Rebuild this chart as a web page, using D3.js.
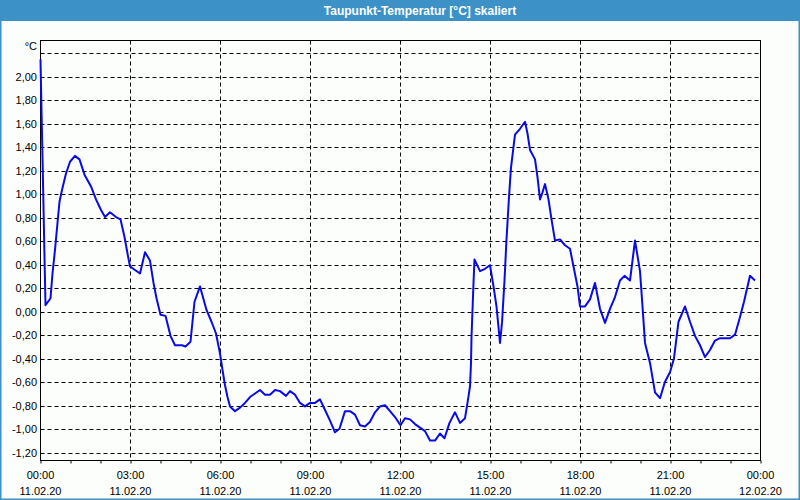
<!DOCTYPE html>
<html>
<head>
<meta charset="utf-8">
<script src="https://cdn.jsdelivr.net/npm/d3@7"></script>
<style>
  html, body { margin: 0; padding: 0; background: #fcfefc; }
  svg { display: block; }
  text { font-family: "Liberation Sans", Arial, sans-serif; }
</style>
</head>
<body>
<svg id="chart" width="800" height="500"></svg>
<script>
const title = "Taupunkt-Temperatur [°C] skaliert";
const unitLabel = "°C";
const times = ["00:00","00:02","00:04","00:06","00:08","00:10","00:20","00:24","00:29","00:34","00:38","00:43","00:51","00:59","01:09","01:18","01:28","01:41","01:51","02:01","02:09","02:19","02:31","02:40","02:48","02:54","02:59","03:09","03:19","03:29","03:39","03:46","03:52","04:00","04:10","04:20","04:29","04:43","04:50","05:00","05:08","05:19","05:32","05:42","05:51","05:59","06:04","06:09","06:14","06:19","06:29","06:39","06:49","06:59","07:09","07:19","07:29","07:39","07:49","07:59","08:11","08:19","08:29","08:39","08:49","08:59","09:09","09:19","09:29","09:39","09:49","09:58","10:09","10:19","10:29","10:39","10:49","10:59","11:09","11:19","11:29","11:39","11:49","12:00","12:09","12:19","12:29","12:39","12:49","12:59","13:09","13:19","13:28","13:38","13:49","13:59","14:09","14:14","14:19","14:21","14:22","14:24","14:26","14:28","14:39","14:49","14:59","15:06","15:12","15:19","15:23","15:28","15:32","15:37","15:41","15:49","15:59","16:09","16:14","16:19","16:29","16:34","16:39","16:44","16:49","16:56","17:02","17:09","17:19","17:29","17:39","17:46","17:54","17:59","18:09","18:19","18:29","18:39","18:49","18:59","19:09","19:19","19:28","19:39","19:49","19:59","20:04","20:09","20:19","20:29","20:39","20:49","20:59","21:07","21:16","21:29","21:39","21:49","21:59","22:09","22:19","22:29","22:39","22:59","23:09","23:19","23:27","23:34","23:39","23:49"];
const values = [2.15,1.72,1.32,0.90,0.47,0.06,0.12,0.33,0.53,0.76,0.94,1.04,1.18,1.28,1.33,1.30,1.17,1.07,0.96,0.87,0.81,0.85,0.81,0.79,0.64,0.50,0.39,0.36,0.33,0.51,0.44,0.25,0.12,-0.02,-0.03,-0.20,-0.28,-0.28,-0.29,-0.25,0.09,0.22,0.02,-0.08,-0.18,-0.35,-0.49,-0.62,-0.72,-0.80,-0.84,-0.81,-0.77,-0.72,-0.69,-0.66,-0.70,-0.70,-0.66,-0.67,-0.71,-0.67,-0.70,-0.77,-0.80,-0.77,-0.77,-0.74,-0.83,-0.92,-1.02,-0.99,-0.84,-0.84,-0.87,-0.96,-0.97,-0.93,-0.85,-0.80,-0.79,-0.84,-0.89,-0.96,-0.90,-0.91,-0.95,-0.98,-1.01,-1.09,-1.09,-1.03,-1.07,-0.94,-0.85,-0.94,-0.90,-0.77,-0.63,-0.43,-0.21,0.02,0.25,0.45,0.35,0.37,0.40,0.22,0.05,-0.26,-0.09,0.27,0.62,0.98,1.23,1.51,1.56,1.62,1.52,1.38,1.30,1.15,0.96,1.02,1.09,0.96,0.79,0.61,0.62,0.57,0.54,0.39,0.22,0.05,0.05,0.11,0.25,0.03,-0.09,0.03,0.13,0.27,0.31,0.27,0.61,0.35,0.05,-0.26,-0.43,-0.68,-0.73,-0.59,-0.51,-0.39,-0.08,0.05,-0.08,-0.20,-0.28,-0.38,-0.32,-0.24,-0.22,-0.22,-0.19,-0.04,0.09,0.22,0.31,0.27];
const yTicks = [-1.2,-1.0,-0.8,-0.6,-0.4,-0.2,0,0.2,0.4,0.6,0.8,1.0,1.2,1.4,1.6,1.8,2.0,2.2];
const startDay = "2020-02-11";
const endDay = "2020-02-12";

const parse = d3.timeParse("%Y-%m-%d %H:%M");
const data = times.map((t, i) => ({ t: parse(startDay + " " + t), v: values[i] }));

const svg = d3.select("#chart");
const W = 800, H = 500;
const L = 40.5, R = 760.5, T = 40.5, B = 460.5;
const barColor = "#3c91c6";

// window background & border
svg.append("rect").attr("x", 0).attr("y", 0).attr("width", W).attr("height", H).attr("fill", "#fcfefc");
svg.append("rect").attr("x", 0).attr("y", 0).attr("width", W).attr("height", 21).attr("fill", barColor);
svg.append("rect").attr("x", 0.75).attr("y", 0.75).attr("width", W - 1.5).attr("height", H - 1.5)
  .attr("fill", "none").attr("stroke", barColor).attr("stroke-width", 1.5);
svg.append("text").attr("x", 420).attr("y", 14.5).attr("text-anchor", "middle")
  .attr("fill", "#ffffff").attr("font-weight", "bold").attr("font-size", "12px").text(title);

const x = d3.scaleTime().domain([parse(startDay + " 00:00"), parse(endDay + " 00:00")]).range([L, R]);
const y = d3.scaleLinear().domain([-1.2, 2.2]).range([453.5, 53.5]);
const cy = v => Math.round(y(v) - 0.5) + 0.5;

// horizontal grid
const grid = svg.append("g");
yTicks.forEach(v => {
  grid.append("line").attr("x1", L).attr("x2", R).attr("y1", cy(v)).attr("y2", cy(v))
    .attr("stroke", "#000").attr("stroke-dasharray", "4,3").attr("stroke-width", 1);
});
// vertical grid every 3h
const majors = x.ticks(d3.timeHour.every(3));
majors.slice(1, -1).forEach(d => {
  grid.append("line").attr("x1", Math.round(x(d) - 0.5) + 0.5).attr("x2", Math.round(x(d) - 0.5) + 0.5)
    .attr("y1", T).attr("y2", B).attr("stroke", "#000").attr("stroke-dasharray", "4,3");
});

// y labels
const fmt = v => d3.format(".2f")(v).replace(".", ",").replace("−", "-");
yTicks.filter(v => v < 2.1).forEach(v => {
  svg.append("text").attr("x", 37).attr("y", cy(v)).attr("dy", "0.35em").attr("text-anchor", "end")
    .attr("font-size", "11px").attr("fill", "#000").text(fmt(v));
});
svg.append("text").attr("x", 37).attr("y", 50).attr("text-anchor", "end")
  .attr("font-size", "11px").attr("fill", "#000").text(unitLabel);

// x axis ticks (hourly) and labels
const xAxis = d3.axisBottom(x).ticks(d3.timeHour.every(1)).tickSize(3).tickFormat("");
const gx = svg.append("g").attr("transform", `translate(0,${B})`).call(xAxis);
gx.select(".domain").remove();
gx.selectAll(".tick line").attr("stroke", "#000");

const tf = d3.timeFormat("%H:%M"), df = d3.timeFormat("%d.%m.%y");
majors.forEach(d => {
  svg.append("text").attr("x", x(d)).attr("y", 479).attr("text-anchor", "middle")
    .attr("font-size", "11px").attr("fill", "#000").text(tf(d));
  svg.append("text").attr("x", x(d)).attr("y", 495).attr("text-anchor", "middle")
    .attr("font-size", "11px").attr("fill", "#000").text(df(d));
});

// frame
svg.append("rect").attr("x", L).attr("y", T).attr("width", R - L).attr("height", B - T)
  .attr("fill", "none").attr("stroke", "#000").attr("stroke-width", 1);

// line
const line = d3.line().x(d => x(d.t)).y(d => y(d.v));
svg.append("path").datum(data).attr("d", line).attr("fill", "none")
  .attr("stroke", "#0a0ae6").attr("stroke-width", 2).attr("stroke-linejoin", "round");
</script>
</body>
</html>
